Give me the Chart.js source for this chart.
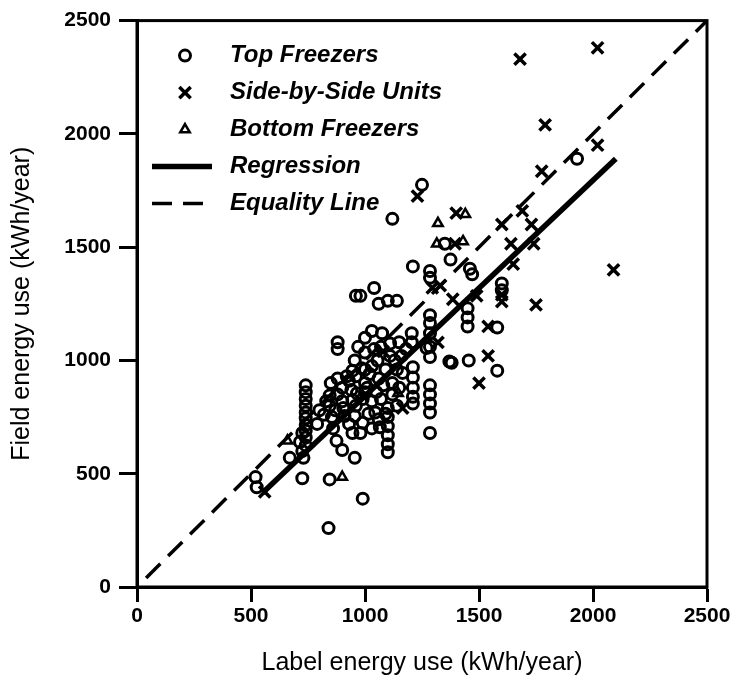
<!DOCTYPE html>
<html>
<head>
<meta charset="utf-8">
<script src="https://cdn.jsdelivr.net/npm/chart.js@4.4.1/dist/chart.umd.min.js"></script>
<style>
  html, body { margin: 0; background: #fff; }
  #wrap { width: 741px; height: 687px; }
</style>
</head>
<body>
<div id="wrap"><canvas id="energy"></canvas></div>
<script>
// [label kWh/year, field kWh/year]
const topFreezers = [
  [1930, 1890], [1250, 1775], [1120, 1625], [1210, 1415], [1040, 1320], [960, 1285], [980, 1285],
  [1060, 1250], [1100, 1263], [1140, 1263], [1285, 1395], [1285, 1365], [1375, 1445], [1460, 1405],
  [1470, 1380], [1350, 1515], [1600, 1340], [1600, 1310], [1450, 1230], [1450, 1190], [1450, 1150],
  [1580, 1145], [1285, 1200], [1285, 1165], [1285, 1120], [1285, 1060], [1285, 1015], [1370, 995],
  [1380, 990], [1455, 1000], [1580, 955], [1285, 890], [1285, 850], [1285, 810], [1285, 770],
  [1285, 680], [1210, 970], [1210, 925], [1210, 880], [1210, 840], [1210, 810], [1165, 945],
  [1205, 1120], [1205, 1080], [1270, 1055], [1030, 1130], [1075, 1120], [880, 1080], [880, 1050],
  [1110, 1075], [1150, 1080], [1000, 1035], [955, 1000], [1055, 1000], [985, 965], [945, 955],
  [1030, 975], [1110, 1020], [1160, 1020], [740, 890], [740, 860], [740, 830], [740, 800], [740, 770],
  [740, 745], [740, 715], [740, 690], [740, 660], [740, 625], [845, 845], [845, 800], [855, 750],
  [860, 700], [875, 645], [900, 605], [905, 790], [945, 825], [965, 855], [1010, 880], [945, 680],
  [980, 680], [990, 725], [1030, 700], [1065, 705], [1015, 765], [1045, 770], [1090, 765], [955, 755],
  [910, 755], [1100, 790], [1100, 750], [1100, 710], [1100, 670], [1100, 630], [1100, 595], [955, 570],
  [725, 480], [845, 475], [840, 260], [990, 390], [520, 485], [525, 440], [725, 600], [730, 570],
  [670, 570], [725, 680], [715, 640], [900, 880], [930, 910], [960, 930], [1000, 900], [1020, 940],
  [1060, 920], [1080, 890], [1050, 860], [990, 830], [940, 870], [880, 850], [900, 820], [1120, 900],
  [1140, 960], [1090, 960], [800, 780], [820, 760], [790, 720], [830, 820], [920, 930], [1000, 960],
  [1040, 1050], [970, 1060], [1070, 1060], [1130, 1000], [1000, 860], [960, 800], [1030, 820],
  [1070, 830], [1120, 850], [870, 780], [930, 720], [1060, 740], [1140, 800], [1150, 880], [880, 920],
  [1000, 1100], [1180, 1050], [850, 900]
];
const sideBySide = [
  [1680, 2330], [2020, 2380], [1790, 2040], [2020, 1950], [1775, 1835], [1230, 1725], [1400, 1650],
  [1690, 1660], [1600, 1600], [1730, 1600], [1640, 1515], [1740, 1515], [1395, 1515], [2090, 1400],
  [1750, 1245], [1600, 1290], [1600, 1260], [1490, 1285], [1385, 1270], [1295, 1320], [1330, 1330],
  [1650, 1425], [1540, 1150], [1320, 1080], [1500, 900], [1540, 1020], [1165, 790], [560, 420], [1080, 1040]
];
const bottomFreezers = [
  [1320, 1605], [1440, 1645], [1315, 1515], [1430, 1525], [1145, 855], [900, 485], [660, 645]
];
const regressionLine = [[550, 415], [2100, 1890]];
const equalityLine = [[40, 40], [2500, 2500]];
const axisMin = 0, axisMax = 2500, axisStep = 500;

const toXY = (pairs) => pairs.map(([x, y]) => ({ x, y }));
const FONT = "'Liberation Sans', Arial, sans-serif";

// box around the plot
const frame = {
  id: "frame",
  afterDraw(chart) {
    const { ctx, chartArea: a } = chart;
    ctx.save();
    ctx.strokeStyle = "#000";
    ctx.lineWidth = 3;
    ctx.strokeRect(a.left, a.top, a.right - a.left, a.bottom - a.top);
    ctx.restore();
  }
};

// legend drawn inside the top-left of the plot
const insideLegend = {
  id: "insideLegend",
  afterDatasetsDraw(chart) {
    const ctx = chart.ctx;
    const top = chart.chartArea.top;
    ctx.save();
    ctx.font = "italic bold 24px " + FONT;
    ctx.textBaseline = "middle";
    chart.data.datasets.forEach((ds, i) => {
      const y = top + 35 + i * 37;
      ctx.strokeStyle = "#000";
      ctx.fillStyle = "rgba(0,0,0,0)";
      if (ds.type === "line") {
        ctx.lineWidth = ds.borderWidth;
        ctx.setLineDash(ds.borderDash || []);
        ctx.beginPath();
        ctx.moveTo(152, y);
        ctx.lineTo(212, y);
        ctx.stroke();
        ctx.setLineDash([]);
      } else {
        ctx.lineWidth = ds.pointBorderWidth;
        Chart.helpers.drawPoint(ctx, {
          pointStyle: ds.pointStyle, radius: ds.pointRadius, rotation: 0, borderWidth: ds.pointBorderWidth
        }, 185, y);
      }
      ctx.fillStyle = "#000";
      ctx.fillText(ds.label, 230, y);
    });
    ctx.restore();
  }
};

const plainNumber = (v) => String(v);

new Chart(document.getElementById("energy"), {
  type: "scatter",
  data: {
    datasets: [
      { label: "Top Freezers", data: toXY(topFreezers), pointStyle: "circle", pointRadius: 5.5,
        pointBorderWidth: 3, pointBorderColor: "#000", pointBackgroundColor: "rgba(0,0,0,0)" },
      { label: "Side-by-Side Units", data: toXY(sideBySide), pointStyle: "crossRot", pointRadius: 8,
        pointBorderWidth: 3.5, pointBorderColor: "#000", pointBackgroundColor: "rgba(0,0,0,0)" },
      { label: "Bottom Freezers", data: toXY(bottomFreezers), pointStyle: "triangle", pointRadius: 5.5,
        pointBorderWidth: 2.5, pointBorderColor: "#000", pointBackgroundColor: "rgba(0,0,0,0)" },
      { type: "line", label: "Regression", data: toXY(regressionLine), borderColor: "#000",
        borderWidth: 5.5, pointRadius: 0, fill: false },
      { type: "line", label: "Equality Line", data: toXY(equalityLine), borderColor: "#000",
        borderWidth: 3.5, borderDash: [20, 11], pointRadius: 0, fill: false }
    ]
  },
  options: {
    responsive: true,
    maintainAspectRatio: false,
    animation: false,
    layout: { padding: { top: 18, right: 34, left: 0, bottom: 0 } },
    plugins: { legend: { display: false }, tooltip: { enabled: false } },
    scales: {
      x: {
        type: "linear", min: axisMin, max: axisMax,
        ticks: { stepSize: axisStep, callback: plainNumber, color: "#000", padding: 2,
          font: { family: FONT, size: 21, weight: "bold" } },
        grid: { drawOnChartArea: false, tickLength: 15, tickWidth: 3, color: "#000" },
        border: { color: "#000", width: 3 },
        title: { display: true, text: "Label energy use (kWh/year)", color: "#000",
          font: { family: FONT, size: 25 }, padding: { top: 0, bottom: 9 } },
        afterFit(scale) { scale.height = 100; }
      },
      y: {
        type: "linear", min: axisMin, max: axisMax,
        ticks: { stepSize: axisStep, callback: plainNumber, color: "#000", padding: 8,
          font: { family: FONT, size: 21, weight: "bold" } },
        grid: { drawOnChartArea: false, tickLength: 18, tickWidth: 3, color: "#000" },
        border: { color: "#000", width: 3 },
        title: { display: true, text: "Field energy use (kWh/year)", color: "#000",
          font: { family: FONT, size: 25 }, padding: { top: 7, bottom: 0 } },
        afterFit(scale) { scale.width = 137; }
      }
    }
  },
  plugins: [frame, insideLegend]
});
</script>
</body>
</html>
